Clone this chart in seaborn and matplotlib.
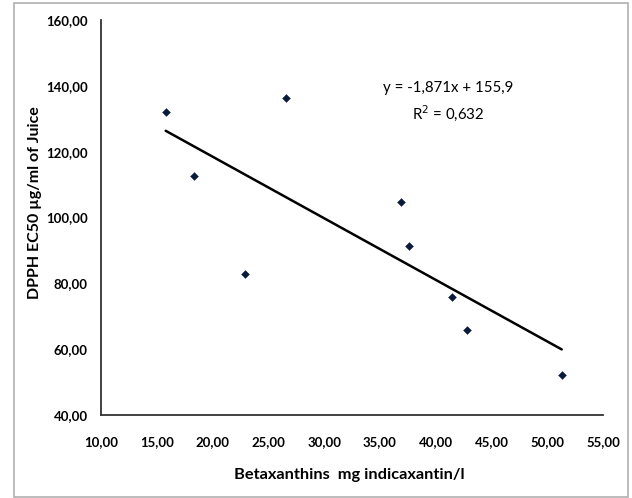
import numpy as np
import pandas as pd
import matplotlib
matplotlib.use('Agg')
import matplotlib.pyplot as plt
import seaborn as sns
from matplotlib.patches import Rectangle

# Data
betaxanthins = [15.8, 18.3, 22.9, 26.6, 36.9, 37.6, 41.5, 42.8, 51.3]
dpph_ec50 = [132.0, 112.6, 82.8, 136.3, 104.7, 91.4, 75.9, 65.8, 52.2]
slope = -1.871
intercept = 155.9
r_squared = 0.632

x_ticks = [10, 15, 20, 25, 30, 35, 40, 45, 50, 55]
y_ticks = [40, 60, 80, 100, 120, 140, 160]

df = pd.DataFrame({'x': betaxanthins, 'y': dpph_ec50})

# Trend line from the reported equation
x_fit = np.array([min(betaxanthins), max(betaxanthins)])
trend = pd.DataFrame({'x': x_fit, 'y': slope * x_fit + intercept})

sns.set_style('white')
plt.rcParams['font.family'] = ['Lato', 'DejaVu Sans']
plt.rcParams['text.color'] = 'black'
plt.rcParams['axes.labelcolor'] = 'black'
plt.rcParams['xtick.color'] = 'black'
plt.rcParams['ytick.color'] = 'black'

fig = plt.figure(figsize=(6.32, 4.98), dpi=100)
ax = fig.add_axes([0.1598, 0.1667, 0.7943, 0.7932])

sns.scatterplot(data=df, x='x', y='y', marker='D', s=16, color='#0a1a3a',
                edgecolor='#0a1a3a', ax=ax, zorder=3)
sns.lineplot(data=trend, x='x', y='y', color='black', linewidth=1.8, ax=ax)

ax.set_xlim(10, 55)
ax.set_ylim(40, 160)
ax.set_xticks(x_ticks)
ax.set_yticks(y_ticks)

def comma(v):
    return f'{v:.2f}'.replace('.', ',')

ax.set_xticklabels([comma(v) for v in x_ticks], fontsize=9.5, fontweight='bold')
ax.set_yticklabels([comma(v) for v in y_ticks], fontsize=9.5, fontweight='bold')
ax.tick_params(axis='x', length=0, pad=15)
ax.tick_params(axis='y', length=0, pad=9.5)

for side in ['top', 'right']:
    ax.spines[side].set_visible(False)
for side in ['left', 'bottom']:
    ax.spines[side].set_color('#333333')
    ax.spines[side].set_linewidth(1.3)

ax.set_xlabel('Betaxanthins  mg indicaxantin/l', fontsize=11.8, fontweight='bold')
ax.xaxis.set_label_coords(0.495, -0.135)
ax.set_ylabel('DPPH EC50 \u00b5g/ml of Juice', fontsize=11.5, fontweight='bold')
ax.yaxis.set_label_coords(-0.117, 0.537)

eq = f'y = {slope:.3f}x + {intercept:.1f}'.replace('.', ',')
r2 = f'R$^2$ = {r_squared:.3f}'.replace('.', ',')
ax.text(41.1, 139.4, eq, ha='center', va='center', fontsize=10.8)
ax.text(41.1, 131.8, r2, ha='center', va='center', fontsize=10.8)

# figure frame
fig.patches.append(Rectangle((14 / 632, 1.5 / 498), 614 / 632, 493 / 498,
                             transform=fig.transFigure, fill=False,
                             edgecolor='#b0b0b0', linewidth=1.2))

fig.savefig('out.png', dpi=100)
